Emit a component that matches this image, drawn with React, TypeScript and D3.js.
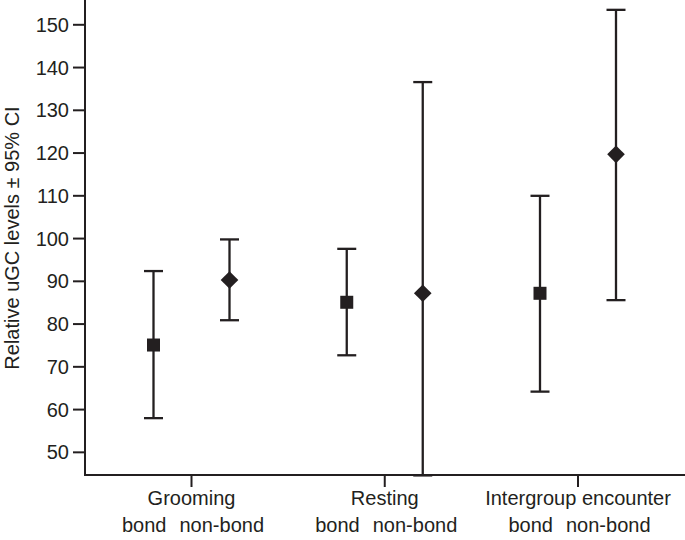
import { useEffect, useRef } from 'react';
import * as d3 from 'd3';

const categories = ['Grooming', 'Resting', 'Intergroup encounter'];
const groups = ['bond', 'non-bond'];
// mean, lower CI, upper CI per category, for bond / non-bond
const bondMean = [75.1, 85.1, 87.2];
const bondLow = [58.0, 72.7, 64.2];
const bondHigh = [92.4, 97.6, 110.0];
const nonBondMean = [90.3, 87.2, 119.7];
const nonBondLow = [80.9, 44.6, 85.6];
const nonBondHigh = [99.8, 136.6, 153.5];
const yTicks = [50, 60, 70, 80, 90, 100, 110, 120, 130, 140, 150];

export default function App() {
  const ref = useRef<SVGSVGElement>(null);

  useEffect(() => {
    if (!ref.current) return;
    const svg = d3.select(ref.current);
    svg.selectAll('*').remove();

    const W = 685, H = 540;
    const axX = 85, axY = 475;
    const font = 'Liberation Sans, Arial, sans-serif';
    const ink = '#231f20';

    const y = d3.scaleLinear().domain([44.7, 155.8]).range([axY, 0]);
    const x = d3.scalePoint<string>().domain(categories).range([191.5, 578]);
    const off = 38;

    // axes
    svg.append('line').attr('x1', axX).attr('x2', axX).attr('y1', 0).attr('y2', axY + 1)
      .attr('stroke', ink).attr('stroke-width', 2);
    svg.append('line').attr('x1', axX - 1).attr('x2', W).attr('y1', axY).attr('y2', axY)
      .attr('stroke', ink).attr('stroke-width', 2);

    const yg = svg.append('g');
    yg.selectAll('line').data(yTicks).enter().append('line')
      .attr('x1', axX - 12).attr('x2', axX).attr('y1', d => y(d)).attr('y2', d => y(d))
      .attr('stroke', ink).attr('stroke-width', 2);
    yg.selectAll('text').data(yTicks).enter().append('text')
      .attr('x', axX - 16).attr('y', d => y(d) + 7).attr('text-anchor', 'end')
      .attr('font-family', font).attr('font-size', 20).attr('fill', ink)
      .text(d => d);

    svg.append('text')
      .attr('transform', `translate(19,238) rotate(-90)`)
      .attr('text-anchor', 'middle').attr('font-family', font).attr('font-size', 20).attr('fill', ink)
      .text('Relative uGC levels \u00b1 95% CI');

    const xg = svg.append('g');
    xg.selectAll('line').data(categories).enter().append('line')
      .attr('x1', d => x(d)!).attr('x2', d => x(d)!).attr('y1', axY).attr('y2', axY + 12)
      .attr('stroke', ink).attr('stroke-width', 2);
    xg.selectAll('text.cat').data(categories).enter().append('text')
      .attr('class', 'cat')
      .attr('x', d => x(d)!).attr('y', 505).attr('text-anchor', 'middle')
      .attr('font-family', font).attr('font-size', 20).attr('fill', ink)
      .text(d => d);
    xg.selectAll('text.bond').data(categories).enter().append('text')
      .attr('class', 'bond')
      .attr('x', d => x(d)! - 25).attr('y', 532).attr('text-anchor', 'end')
      .attr('font-family', font).attr('font-size', 20).attr('fill', ink)
      .text(groups[0]);
    xg.selectAll('text.nonbond').data(categories).enter().append('text')
      .attr('class', 'nonbond')
      .attr('x', d => x(d)! - 12).attr('y', 532).attr('text-anchor', 'start')
      .attr('font-family', font).attr('font-size', 20).attr('fill', ink)
      .text(groups[1]);

    const pts = categories.flatMap((c, i) => [
      { c, dx: -off, m: bondMean[i], lo: bondLow[i], hi: bondHigh[i], shape: 'square' },
      { c, dx: off, m: nonBondMean[i], lo: nonBondLow[i], hi: nonBondHigh[i], shape: 'diamond' },
    ]);

    const cap = 9.5;
    const eg = svg.append('g');
    pts.forEach(p => {
      const cx = x(p.c)! + p.dx;
      eg.append('line').attr('x1', cx).attr('x2', cx).attr('y1', y(p.hi)).attr('y2', y(p.lo))
        .attr('stroke', ink).attr('stroke-width', 2.3);
      [p.lo, p.hi].forEach(v => {
        eg.append('line').attr('x1', cx - cap).attr('x2', cx + cap).attr('y1', y(v)).attr('y2', y(v))
          .attr('stroke', ink).attr('stroke-width', 2.3);
      });
      if (p.shape === 'square') {
        eg.append('rect').attr('x', cx - 6.5).attr('y', y(p.m) - 6.5)
          .attr('width', 13).attr('height', 13).attr('fill', ink);
      } else {
        const s = 8.8;
        eg.append('path')
          .attr('d', `M${cx},${y(p.m) - s}L${cx + s},${y(p.m)}L${cx},${y(p.m) + s}L${cx - s},${y(p.m)}Z`)
          .attr('fill', ink);
      }
    });
  }, []);

  return (
    <div style={{ position: 'fixed', left: 0, top: 0 }}>
      <svg ref={ref} width={685} height={540} style={{ display: 'block', background: '#fff' }} />
    </div>
  );
}
